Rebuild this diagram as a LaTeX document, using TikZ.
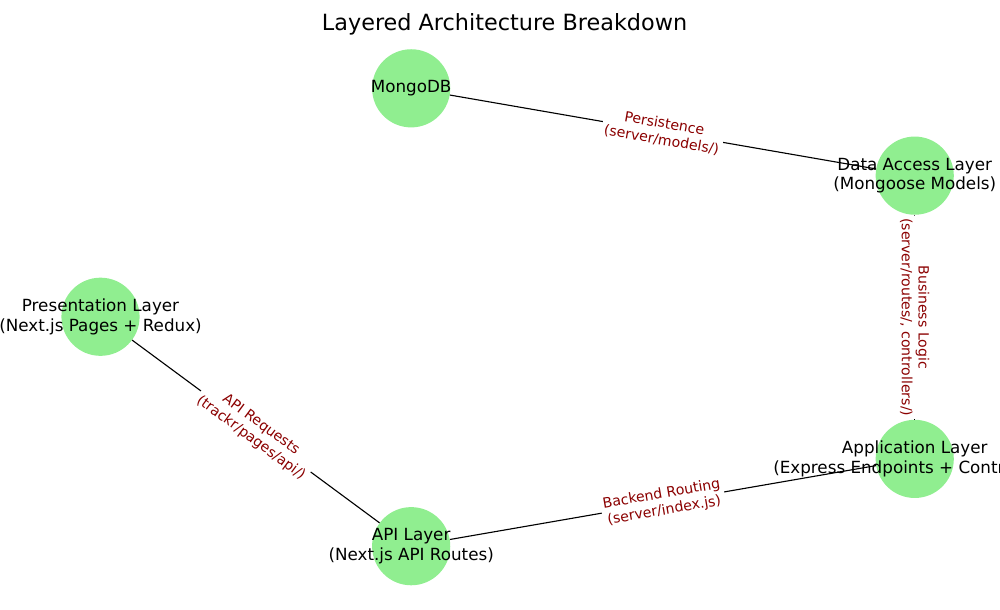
\documentclass[tikz,border=0pt]{standalone}
\usepackage{fontspec}
\setmainfont{DejaVu Sans}
\usepackage{tikz}
\definecolor{layergreen}{HTML}{90EE90}
\definecolor{labelred}{HTML}{8B0000}

\begin{document}
\begin{tikzpicture}[x=1pt,y=-1pt,
  layer/.style={circle,fill=layergreen,minimum size=77pt,inner sep=0pt},
  layertext/.style={align=center,inner sep=0pt,font=\fontsize{16.5}{19.6}\selectfont},
  edgelabel/.style={fill=white,rounded corners=2pt,inner sep=2.5pt,align=center,
    text=labelred,font=\fontsize{13.9}{16.5}\selectfont},
  link/.style={draw=black,line width=1.1pt}]
\useasboundingbox (0,0) rectangle (985,600);
\node[font=\fontsize{22}{26}\selectfont] (title) at (497,24) {Layered Architecture Breakdown};
% layers
\node[layer] (mongo) at (405,87) {};
\node[layer] (dal) at (901,173) {};
\node[layer] (pres) at (99,312) {};
\node[layer] (app) at (901,452) {};
\node[layer] (api) at (405,538) {};
% flows between layers
\draw[link] (mongo) -- node[edgelabel,sloped] (persist) {Persistence\\(server/models/)} (dal);
\draw[link] (dal) -- node[edgelabel,rotate=-90] (logic) {Business Logic\\(server/routes/, controllers/)} (app);
\draw[link] (pres) -- node[edgelabel,sloped] (requests) {API Requests\\(trackr/pages/api/)} (api);
\draw[link] (api) -- node[edgelabel,sloped] (routing) {Backend Routing\\(server/index.js)} (app);
% layer names
\node[layertext] (mongotext) at (mongo) {MongoDB};
\node[layertext] (daltext) at (dal) {Data Access Layer\\(Mongoose Models)};
\node[layertext] (prestext) at (pres) {Presentation Layer\\(Next.js Pages + Redux)};
\node[layertext] (apptext) at (app) {Application Layer\\(Express Endpoints + Controllers)};
\node[layertext] (apitext) at (api) {API Layer\\(Next.js API Routes)};
\end{tikzpicture}
\end{document}
